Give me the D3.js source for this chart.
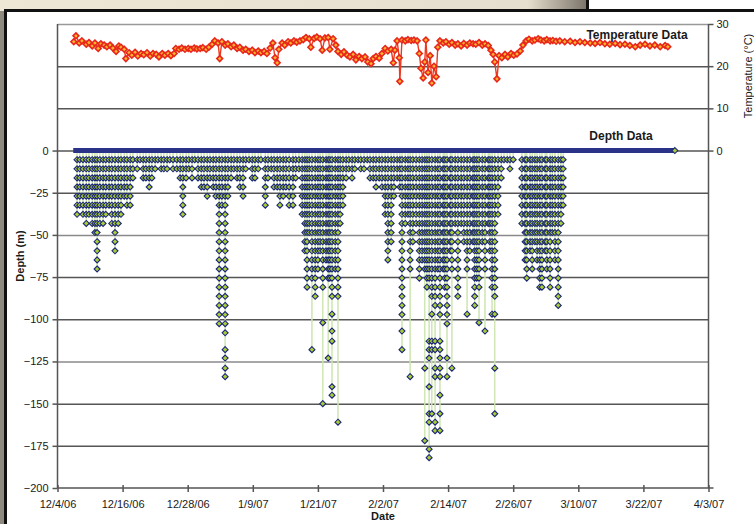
<!DOCTYPE html>
<html>
<head>
<meta charset="utf-8">
<script src="https://cdn.jsdelivr.net/npm/d3@7"></script>
<style>
  body { margin: 0; background: #fff; }
  text { font-family: "Liberation Sans", Arial, sans-serif; fill: #1a1a1a; }
</style>
</head>
<body>
<svg id="chart"></svg>
<script>
const width = 754, height = 524;

// days are counted from 12/4/06
const startDate = new Date(2006, 11, 4);
const endDate = new Date(2007, 3, 3);
const dateTicks = ["12/4/06", "12/16/06", "12/28/06", "1/9/07", "1/21/07", "2/2/07",
  "2/14/07", "2/26/07", "3/10/07", "3/22/07", "4/3/07"];
const depthTicks = [0, -25, -50, -75, -100, -125, -150, -175, -200];
const tempTicks = [0, 10, 20, 30];

// temperature record (°C)
const tempDay = [3.0,3.4,4.0,4.5,5.3,5.8,6.4,6.9,7.5,8.0,8.6,9.1,9.7,10.2,10.8,11.3,11.7,12.3,12.6,13.2,
  13.7,14.3,14.8,15.4,15.9,16.5,17.1,17.6,18.2,18.7,19.3,19.8,20.4,20.9,21.5,21.8,22.4,22.9,23.5,24.1,
  24.6,25.2,25.7,26.3,26.8,27.4,27.9,28.5,29.0,29.6,29.9,30.3,30.9,31.4,32.0,32.5,33.1,33.6,34.2,34.7,
  35.3,35.9,36.4,37.0,37.5,38.1,38.6,39.2,39.7,40.1,40.5,40.8,41.4,41.9,42.5,43.0,43.6,44.1,44.7,45.3,
  45.8,46.4,46.7,47.3,47.8,48.4,48.8,49.3,49.9,50.2,50.8,51.3,51.7,52.3,52.8,53.4,53.9,54.5,55.0,55.6,
  56.1,56.7,57.2,57.8,58.2,58.7,59.3,59.8,60.4,60.9,61.5,61.9,62.2,62.6,63.0,63.1,63.5,64.1,64.6,65.2,
  65.7,66.3,66.7,67.0,67.4,67.7,67.9,68.3,68.7,69.0,69.4,69.8,70.1,70.5,71.1,71.6,72.2,72.7,73.3,73.8,
  74.4,74.9,75.5,76.0,76.6,77.1,77.7,78.3,78.8,79.4,79.9,80.3,80.6,81.0,81.4,81.9,82.5,83.0,83.6,84.1,
  84.7,85.3,85.8,86.4,86.9,87.5,88.0,88.6,89.1,89.7,90.2,90.8,91.3,91.9,92.6,93.5,94.5,95.4,96.3,97.2,
  98.2,99.1,100.0,100.9,101.8,102.8,103.7,104.6,105.5,106.5,107.4,108.3,109.2,110.1,111.1,112.0,112.5];
const tempC = [25.8,27.2,25.5,26.0,25.2,25.6,24.8,25.5,24.2,25.3,25.0,24.6,25.0,24.3,23.5,24.8,24.5,24.0,21.8,23.2,
  22.6,23.3,22.4,23.0,22.7,23.2,22.4,23.0,22.8,22.2,23.0,22.6,23.0,22.5,23.0,24.2,24.0,24.3,24.0,24.2,
  24.0,24.3,24.1,24.2,24.4,24.0,24.5,25.2,26.0,25.5,21.8,25.8,25.0,25.3,24.6,25.0,24.2,24.5,23.8,24.0,
  23.5,23.8,23.2,23.6,23.2,23.5,23.0,24.3,25.5,22.0,20.8,24.0,25.5,25.0,25.8,25.5,26.0,25.7,26.0,26.3,
  26.8,26.5,24.5,26.6,26.9,26.5,23.8,26.7,26.8,24.0,26.5,25.0,23.5,22.8,23.4,22.6,22.2,22.8,21.5,22.3,
  21.8,22.2,21.0,20.6,21.8,22.3,21.9,23.0,24.2,23.6,24.0,20.8,23.8,26.0,22.0,16.4,26.2,26.0,26.3,26.1,
  26.2,26.0,23.0,19.5,17.2,21.0,26.2,18.5,22.5,16.0,20.0,17.5,24.5,26.0,25.5,25.8,25.2,25.6,25.0,25.3,
  24.8,25.4,25.0,25.5,25.3,25.2,25.6,25.0,25.3,24.9,23.8,22.8,21.0,17.0,22.5,22.0,22.8,22.2,23.0,22.6,
  22.9,23.6,25.0,26.0,26.4,26.0,26.2,26.5,26.2,26.0,26.3,26.0,26.1,25.9,26.0,25.8,25.9,25.6,25.8,25.6,
  25.5,25.4,25.6,25.3,25.2,25.4,25.1,25.2,24.9,24.6,25.0,25.2,24.8,25.0,24.6,24.9,24.6];

// depth record: surface interval, dives (day, depth reached with a sample at every step)
const surfaceFirstDay = 2.9, surfaceLastDay = 113.8;
const depthStep = 5.4; // logger depth resolution
const diveDay = [3.6,4.1,4.7,5.3,5.8,6.4,6.9,7.3,7.8,8.4,8.9,9.5,10.0,10.6,11.2,11.7,12.3,12.8,13.4,13.9,
  14.7,15.2,15.8,16.3,16.9,17.4,18.0,18.5,19.1,19.6,20.2,20.7,21.3,
  22.0,22.6,23.1,23.7,24.2,
  24.8,25.3,25.9,26.5,27.0,27.6,28.1,28.7,29.2,29.8,30.3,30.9,31.4,32.0,32.5,33.1,33.6,34.2,34.7,35.3,
  35.9,36.4,37.0,37.5,38.3,38.8,39.4,39.9,40.5,41.0,41.6,42.1,42.7,43.4,43.9,44.5,
  45.1,45.6,46.0,46.4,46.9,47.5,48.0,48.4,48.9,49.5,49.9,50.2,50.6,51.2,51.7,52.1,52.6,
  53.2,53.7,54.3,54.8,55.4,55.9,56.5,57.1,57.6,58.2,58.7,59.3,59.8,
  60.4,60.9,61.5,62.0,62.6,63.1,63.5,64.1,64.6,65.0,65.5,66.1,66.7,67.2,67.7,68.1,68.5,69.0,69.6,70.1,
  70.5,71.1,71.4,71.8,72.4,72.7,73.3,73.8,74.4,74.9,75.5,76.0,76.6,76.9,77.3,77.7,78.3,78.8,79.4,79.7,
  80.1,80.6,81.2,81.8,82.3,82.9,83.4,84.0,
  85.6,86.2,86.5,87.1,87.5,88.0,88.4,88.9,89.3,89.9,90.2,90.8,91.2,91.7,92.3,92.8,93.2];
const diveMax = [-40,-35,-40,-45,-40,-45,-50,-70,-45,-45,-40,-30,-45,-60,-45,-40,-25,-30,-35,-15,
  -10,-5,-15,-15,-20,-15,-10,-5,-10,-10,-10,-5,-10,
  -10,-15,-40,-15,-10,
  -15,-5,-15,-20,-20,-25,-15,-20,-25,-100,-30,-107,-25,-15,-10,-15,-20,-25,-10,-5,
  -15,-15,-10,-5,-30,-15,-10,-20,-20,-30,-25,-20,-30,-35,-15,-10,
  -40,-60,-80,-50,-75,-86,-70,-60,-81,-65,-75,-75,-86,-70,-86,-45,-35,
  -15,-10,-15,-10,-5,-10,-10,-5,-15,-15,-20,-15,-20,
  -40,-65,-55,-25,-15,-20,-97,-45,-40,-70,-55,-45,-75,-65,-70,-80,-75,-86,-91,-70,
  -97,-70,-80,-102,-60,-70,-45,-86,-45,-55,-70,-60,-55,-91,-75,-81,-55,-70,-45,-60,
  -81,-86,-40,-15,-5,-5,-10,-5,
  -45,-65,-75,-60,-70,-55,-65,-81,-80,-60,-70,-80,-50,-65,-91,-45,-35];
// isolated deeper samples on some dives
const deepDay = [30.9,30.9,30.9,30.9, 46.9, 48.9,48.9, 49.9, 50.6,50.6,50.6,50.6,50.6, 51.7,
  63.5,63.5, 65.0, 67.7,67.7, 68.5,68.5,68.5,68.5,68.5,68.5,68.5,68.5, 69.0,69.0,69.0,69.0,
  69.6,69.6,69.6,69.6,69.6,69.6, 70.5,70.5,70.5,70.5,70.5,70.5,70.5,70.5, 71.8,71.8, 72.7,
  75.5, 77.7, 78.8, 80.1, 80.6,80.6,80.6];
const deepDepth = [-118,-123,-129,-134, -118, -102,-150, -123, -97,-107,-113,-140,-145, -161,
  -107,-118, -134, -129,-172, -113,-118,-123,-140,-156,-161,-177,-182, -97,-113,-118,-156,
  -113,-118,-129,-134,-161,-166, -113,-118,-123,-129,-134,-145,-156,-166, -123,-134, -129,
  -97, -102, -107, -97, -97,-129,-156];

const plotL = 57.5, plotR = 708.5, plotT = 24, plotB = 488;
const dayDate = d => new Date(+startDate + d * 864e5);
const parseTick = d3.timeParse("%m/%d/%y");
const fmtTick = d3.timeFormat("%-m/%-d/%y");

const x = d3.scaleTime().domain([startDate, endDate]).range([plotL, plotR]);
const yDepth = d3.scaleLinear().domain([-200, 75]).range([plotB, plotT]);
const yTemp = d3.scaleLinear().domain([-80, 30]).range([plotB, plotT]);

const svg = d3.select("#chart").attr("width", width).attr("height", height);

// framed background
const defs = svg.append("defs");
const grad = defs.append("linearGradient").attr("id", "strip");
grad.append("stop").attr("offset", "0%").attr("stop-color", "#efe7d6");
grad.append("stop").attr("offset", "90%").attr("stop-color", "#e6dece");
grad.append("stop").attr("offset", "100%").attr("stop-color", "#7c766b");
svg.append("rect").attr("width", width).attr("height", height).attr("fill", "#fff");
svg.append("rect").attr("width", 586).attr("height", 11).attr("fill", "url(#strip)");
svg.append("rect").attr("x", 586).attr("width", 3).attr("height", 11).attr("fill", "#111");
svg.append("rect").attr("y", 11).attr("width", 4).attr("height", height).attr("fill", "#8f8a80");
svg.append("rect").attr("x", 4).attr("y", 9).attr("width", width).attr("height", 3).attr("fill", "#111");
svg.append("rect").attr("x", 4).attr("y", 9).attr("width", 3).attr("height", height).attr("fill", "#111");

// gridlines
svg.append("g")
  .attr("transform", `translate(${plotL},0)`)
  .call(d3.axisLeft(yDepth).tickValues(depthTicks.slice(0, -1)).tickSize(-(plotR - plotL)).tickFormat(""))
  .call(g => g.select(".domain").remove())
  .call(g => g.selectAll("line").attr("stroke", d => d === -50 || d === -125 ? "#8a8a8a" : "#555").attr("stroke-width", 1.5));
svg.append("g")
  .attr("transform", `translate(${plotL},0)`)
  .call(d3.axisLeft(yTemp).tickValues([10, 20, 30]).tickSize(-(plotR - plotL)).tickFormat(""))
  .call(g => g.select(".domain").remove())
  .call(g => g.selectAll("line").attr("stroke", d => d === 30 ? "#999" : "#555").attr("stroke-width", 1.5));

// markers
const diamond = {
  draw(ctx, size) {
    const r = Math.sqrt(size / 2);
    ctx.moveTo(0, -r); ctx.lineTo(r, 0); ctx.lineTo(0, r); ctx.lineTo(-r, 0); ctx.closePath();
  }
};

// depth series
const depthSamples = [];
diveDay.forEach((d, i) => {
  depthSamples.push({ day: d, depth: 0 });
  for (let k = 1; k * depthStep <= -diveMax[i] + depthStep / 2; k++) {
    depthSamples.push({ day: d, depth: -k * depthStep });
  }
  deepDay.forEach((dd, j) => { if (dd === d) depthSamples.push({ day: d, depth: deepDepth[j] }); });
  depthSamples.push({ day: d, depth: 0 });
});

svg.append("path")
  .datum(depthSamples)
  .attr("fill", "none")
  .attr("stroke", "#cde5b0")
  .attr("stroke-width", 1)
  .attr("d", d3.line().x(d => x(dayDate(d.day))).y(d => yDepth(d.depth)));

svg.append("line")
  .attr("x1", x(dayDate(surfaceFirstDay))).attr("x2", x(dayDate(surfaceLastDay)))
  .attr("y1", yDepth(0)).attr("y2", yDepth(0))
  .attr("stroke", "#2a3388").attr("stroke-width", 5);

svg.append("g")
  .selectAll("path")
  .data(depthSamples.filter(d => d.depth < 0).concat([{ day: surfaceLastDay, depth: 0 }]))
  .join("path")
  .attr("transform", d => `translate(${x(dayDate(d.day))},${yDepth(d.depth)})`)
  .attr("d", d3.symbol(diamond, 18))
  .attr("fill", "#a8cd36")
  .attr("stroke", "#1c2778")
  .attr("stroke-width", 1.1);

// temperature series
const temps = tempDay.map((d, i) => ({ day: d, t: tempC[i] }));
svg.append("path")
  .datum(temps)
  .attr("fill", "none")
  .attr("stroke", "#ec3a20")
  .attr("stroke-width", 1.4)
  .attr("d", d3.line().x(d => x(dayDate(d.day))).y(d => yTemp(d.t)));
svg.append("g")
  .selectAll("path")
  .data(temps)
  .join("path")
  .attr("transform", d => `translate(${x(dayDate(d.day))},${yTemp(d.t)})`)
  .attr("d", d3.symbol(diamond, 17))
  .attr("fill", "#f9b42c")
  .attr("stroke", "#e8261b")
  .attr("stroke-width", 1.6);

// axes
const styleAxis = g => {
  g.select(".domain").attr("stroke", "#555").attr("stroke-width", 1.5);
  g.selectAll(".tick line").attr("stroke", "#555").attr("stroke-width", 1.5);
  g.selectAll(".tick text").attr("font-size", 11).attr("fill", "#1a1a1a")
    .attr("font-family", "'Liberation Sans', Arial, sans-serif");
};
svg.append("g")
  .attr("transform", `translate(${plotL},0)`)
  .call(d3.axisLeft(yDepth).tickValues(depthTicks).tickSize(5).tickPadding(4))
  .call(g => g.select(".domain").attr("d", `M0,${plotT}V${plotB}`))
  .call(styleAxis);
svg.append("g")
  .attr("transform", `translate(${plotR},0)`)
  .call(d3.axisRight(yTemp).tickValues(tempTicks).tickSize(5).tickPadding(3))
  .call(g => g.select(".domain").attr("d", `M0,${plotT}V${plotB}`))
  .call(styleAxis);
svg.append("g")
  .attr("transform", `translate(0,${plotB})`)
  .call(d3.axisBottom(x).tickValues(dateTicks.map(parseTick)).tickFormat(fmtTick).tickSize(4).tickPadding(8))
  .call(g => g.select(".domain").attr("d", `M${plotL},0H${plotR}`))
  .call(g => g.selectAll(".tick line").attr("y1", -3))
  .call(styleAxis);
svg.append("line")
  .attr("x1", plotR).attr("x2", plotR + 5).attr("y1", plotB).attr("y2", plotB)
  .attr("stroke", "#555").attr("stroke-width", 1.5);

// titles
svg.append("text").attr("x", 637).attr("y", 39).attr("text-anchor", "middle")
  .attr("font-size", 12).attr("font-weight", "bold").text("Temperature Data");
svg.append("text").attr("x", 621).attr("y", 140).attr("text-anchor", "middle")
  .attr("font-size", 12).attr("font-weight", "bold").text("Depth Data");
svg.append("text").attr("x", (plotL + plotR) / 2).attr("y", 520).attr("text-anchor", "middle")
  .attr("font-size", 11).attr("font-weight", "bold").text("Date");
svg.append("text").attr("transform", `translate(24,${(plotT + plotB) / 2}) rotate(-90)`)
  .attr("text-anchor", "middle").attr("font-size", 11).attr("font-weight", "bold").text("Depth (m)");
svg.append("text").attr("transform", `translate(752,76) rotate(-90)`)
  .attr("text-anchor", "middle").attr("font-size", 11).text("Temperature (°C)");
</script>
</body>
</html>
